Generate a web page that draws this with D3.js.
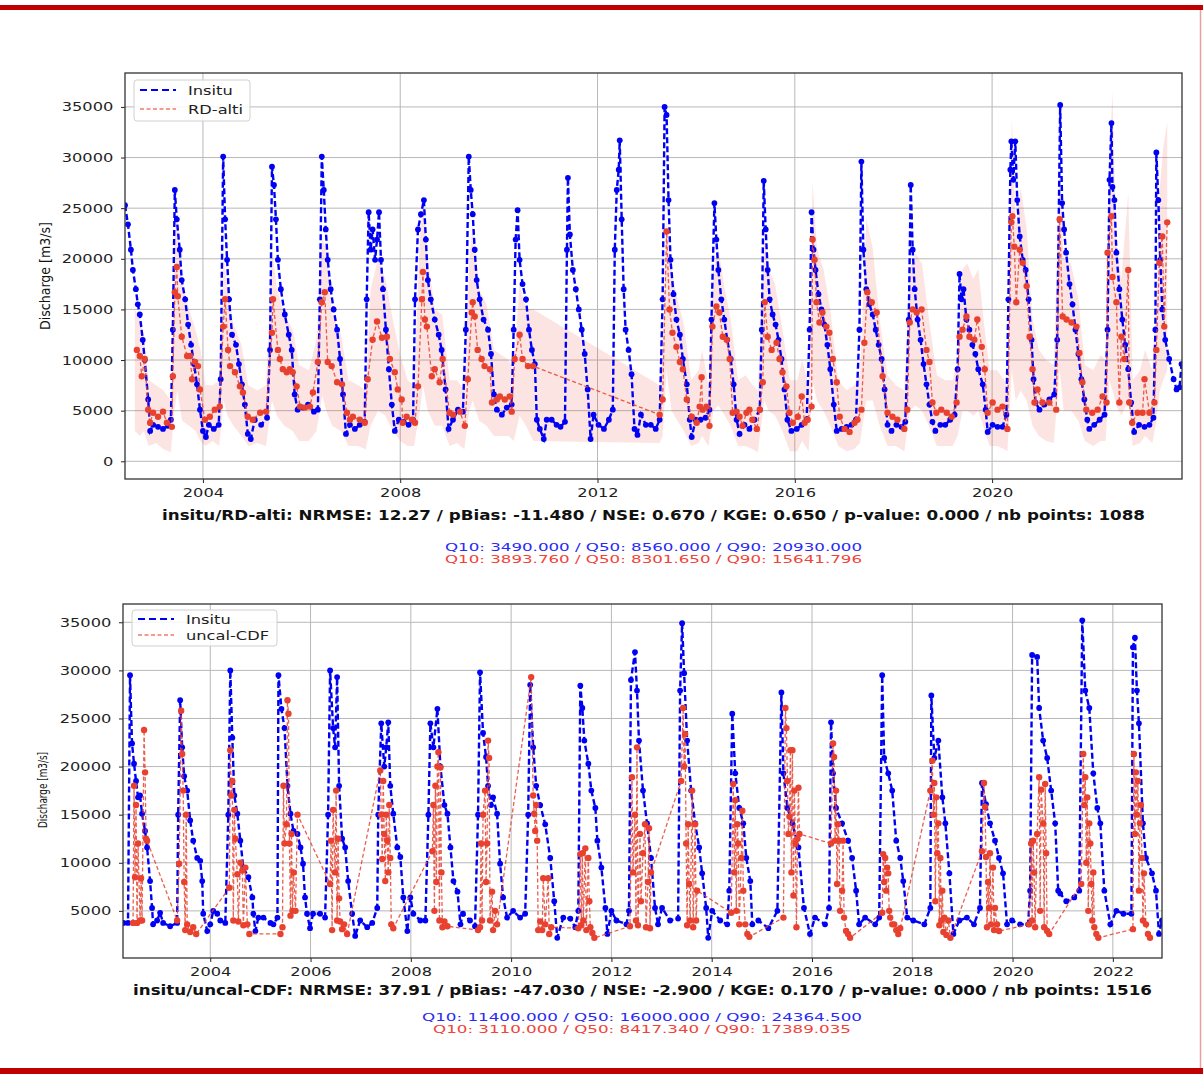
<!DOCTYPE html>
<html>
<head>
<meta charset="utf-8">
<script src="https://cdn.jsdelivr.net/npm/d3@7"></script>
<style>
  body { margin: 0; background: #fff; }
  svg { display: block; }
</style>
</head>
<body>
<svg width="1203" height="1074"></svg>
<script>
// ---- data (decimal year, discharge m3/s) ----
const insituTop = [
  [2002.42,25300],[2002.48,23400],[2002.54,20900],[2002.58,18900],[2002.64,17000],[2002.68,15500],[2002.72,14500],[2002.78,12000],[2002.82,10000],[2002.89,6100],[2002.93,3000],[2002.99,3600],
  [2003.09,3400],[2003.19,3200],[2003.29,3500],[2003.35,4100],[2003.39,13000],[2003.43,26800],[2003.47,23900],[2003.53,20900],[2003.57,17900],[2003.64,16000],[2003.70,13500],[2003.76,11500],[2003.82,9600],[2003.88,7600],[2003.94,5100],
  [2004.00,3000],[2004.06,2400],[2004.12,3600],[2004.22,3200],[2004.32,3600],[2004.36,8100],[2004.41,30100],[2004.45,23900],[2004.49,19900],[2004.53,16000],[2004.59,12500],[2004.67,11500],[2004.73,9600],[2004.79,7600],[2004.85,5600],[2004.91,2700],[2004.97,2200],
  [2005.05,4100],[2005.18,3600],[2005.30,4300],[2005.36,11000],[2005.40,29100],[2005.44,27300],[2005.48,23900],[2005.52,19900],[2005.58,17000],[2005.66,14500],[2005.74,12500],[2005.80,11000],[2005.86,6600],[2005.92,5100],
  [2006.03,5300],[2006.13,5600],[2006.25,4900],[2006.33,5100],[2006.37,16000],[2006.41,30100],[2006.45,26800],[2006.49,22900],[2006.53,19900],[2006.59,17000],[2006.65,15000],[2006.72,13000],[2006.78,10100],[2006.84,6600],[2006.90,2700],[2006.98,3600],
  [2007.08,3200],[2007.18,3600],[2007.28,3900],[2007.32,16000],[2007.36,24600],[2007.40,20900],[2007.44,22900],[2007.49,19900],[2007.53,21900],[2007.57,24600],[2007.61,19900],[2007.65,17000],[2007.71,13000],[2007.77,9100],[2007.83,5600],[2007.89,3000],[2007.97,4100],
  [2008.07,3900],[2008.17,3600],[2008.26,4100],[2008.30,16000],[2008.36,22900],[2008.42,24400],[2008.48,25800],[2008.52,21900],[2008.56,17900],[2008.62,16000],[2008.70,14000],[2008.78,12500],[2008.84,11000],[2008.92,7100],[2008.98,3200],
  [2009.07,4100],[2009.17,5100],[2009.27,4900],[2009.33,13000],[2009.39,30100],[2009.43,26800],[2009.47,24400],[2009.51,20900],[2009.55,17900],[2009.61,16000],[2009.69,14000],[2009.78,13000],[2009.84,10600],[2009.90,6600],[2009.96,5100],
  [2010.06,4600],[2010.16,5300],[2010.26,5600],[2010.30,13000],[2010.34,21900],[2010.38,24800],[2010.42,19900],[2010.48,17500],[2010.55,16000],[2010.61,13000],[2010.67,11000],[2010.73,9600],[2010.77,4100],[2010.83,3200],[2010.91,2200],[2010.97,4100],
  [2011.07,4100],[2011.17,3600],[2011.25,3400],[2011.34,3900],[2011.38,20900],[2011.40,28000],[2011.44,22400],[2011.50,18900],[2011.56,17000],[2011.62,15000],[2011.68,13000],[2011.74,10600],[2011.80,7100],[2011.86,2200],[2011.92,4600],
  [2012.02,3600],[2012.13,3200],[2012.23,4100],[2012.31,5100],[2012.35,20900],[2012.39,26800],[2012.43,28800],[2012.45,31700],[2012.49,23900],[2012.53,17000],[2012.57,13000],[2012.63,11000],[2012.69,8600],[2012.75,3200],[2012.81,2600],[2012.88,4600],[2012.98,3600],
  [2013.08,3600],[2013.18,3200],[2013.26,4100],[2013.32,16000],[2013.36,35000],[2013.40,34200],[2013.44,25800],[2013.48,19900],[2013.54,16500],[2013.60,14000],[2013.67,12500],[2013.73,10100],[2013.81,7600],[2013.87,4100],[2013.91,2400],[2013.99,4100],
  [2014.09,4100],[2014.19,4300],[2014.27,5100],[2014.31,14000],[2014.37,25500],[2014.41,21900],[2014.45,18900],[2014.51,16000],[2014.57,14000],[2014.63,12000],[2014.70,10100],[2014.76,7600],[2014.82,4100],[2014.88,2700],[2014.98,3600],
  [2015.08,3200],[2015.18,4100],[2015.29,5100],[2015.33,13000],[2015.37,27700],[2015.41,22900],[2015.45,18900],[2015.49,16000],[2015.55,14500],[2015.61,13500],[2015.67,12000],[2015.73,10100],[2015.79,7100],[2015.85,4100],[2015.93,3000],
  [2016.04,3200],[2016.14,3600],[2016.24,4100],[2016.30,13000],[2016.34,24600],[2016.38,20900],[2016.42,18900],[2016.48,16500],[2016.54,15000],[2016.60,13500],[2016.66,11500],[2016.72,9100],[2016.79,5600],[2016.85,3000],[2016.95,3200],
  [2017.05,3400],[2017.15,3600],[2017.24,4100],[2017.31,13000],[2017.35,29600],[2017.39,20900],[2017.45,17000],[2017.51,15500],[2017.58,14500],[2017.64,13000],[2017.70,11500],[2017.76,10100],[2017.82,7100],[2017.88,3600],[2017.96,3000],
  [2018.06,3600],[2018.16,3400],[2018.24,3900],[2018.31,14000],[2018.35,27300],[2018.39,20900],[2018.43,17000],[2018.49,14000],[2018.55,12000],[2018.61,9600],[2018.67,7600],[2018.73,5600],[2018.79,3900],[2018.85,3000],[2018.95,3600],
  [2019.05,3600],[2019.15,4100],[2019.24,4600],[2019.30,9100],[2019.34,18500],[2019.38,16000],[2019.42,17000],[2019.48,14000],[2019.54,13000],[2019.60,11500],[2019.66,10600],[2019.72,9100],[2019.81,7600],[2019.87,5100],[2019.91,2900],
  [2020.01,3600],[2020.11,3400],[2020.21,3400],[2020.29,4600],[2020.33,16000],[2020.37,28800],[2020.39,31600],[2020.43,27800],[2020.47,31600],[2020.51,25800],[2020.56,22200],[2020.62,19900],[2020.68,18900],[2020.74,16000],[2020.80,12000],[2020.84,8100],[2020.88,5800],[2020.96,5100],
  [2021.06,5600],[2021.16,6100],[2021.26,6600],[2021.32,12000],[2021.38,35200],[2021.42,25500],[2021.46,22900],[2021.50,20600],[2021.57,17500],[2021.63,15500],[2021.69,13000],[2021.75,10600],[2021.81,8100],[2021.87,6100],[2021.93,4100],[2021.97,3200],
  [2022.07,3600],[2022.18,4100],[2022.28,4600],[2022.34,13000],[2022.38,27800],[2022.42,33400],[2022.44,27100],[2022.48,25800],[2022.52,20600],[2022.58,17000],[2022.64,14000],[2022.70,11500],[2022.76,9100],[2022.82,5800],[2022.88,2900],[2022.98,3600],
  [2023.09,3400],[2023.19,3600],[2023.27,4300],[2023.31,13000],[2023.33,30500],[2023.37,25800],[2023.41,19900],[2023.45,15000],[2023.51,12000],[2023.59,10100],[2023.68,8100],[2023.74,7100],[2023.80,7300],[2023.84,9600]
];

const rdAlti = [
  [2002.66,11000],[2002.72,10400],[2002.76,8400],[2002.82,10100],[2002.89,5100],[2002.93,3800],[2002.99,4800],
  [2003.09,4400],[2003.19,4900],[2003.27,3800],[2003.37,3400],[2003.39,8400],[2003.43,16700],[2003.47,19200],[2003.49,16300],[2003.57,12300],[2003.68,10400],[2003.74,10400],[2003.78,8100],[2003.84,9800],[2003.90,9400],[2003.94,7100],
  [2004.04,4100],[2004.14,4400],[2004.24,5100],[2004.34,5400],[2004.41,13300],[2004.45,16000],[2004.51,11000],[2004.55,9400],[2004.65,8800],[2004.75,7400],[2004.81,6800],[2004.91,4400],
  [2005.01,4100],[2005.16,4800],[2005.28,4900],[2005.40,12700],[2005.42,16000],[2005.52,11000],[2005.56,10100],[2005.62,9100],[2005.70,8800],[2005.76,9100],[2005.82,8800],[2005.90,7400],[2005.97,5400],
  [2006.07,5300],[2006.17,5400],[2006.23,6800],[2006.33,9800],[2006.41,15700],[2006.47,16700],[2006.53,9800],[2006.61,9400],[2006.72,7800],[2006.82,7600],[2006.92,4800],[2006.98,4100],
  [2007.04,4400],[2007.18,4100],[2007.28,3800],[2007.34,8100],[2007.44,12000],[2007.53,13800],[2007.63,12200],[2007.73,12300],[2007.79,10100],[2007.89,8800],[2007.95,7100],
  [2008.03,6100],[2008.05,3800],[2008.13,4400],[2008.24,4100],[2008.30,3800],[2008.36,7400],[2008.44,16000],[2008.46,18700],[2008.50,14000],[2008.54,13300],[2008.64,8400],[2008.70,9100],[2008.80,7800],[2008.86,10100],
  [2009.00,4800],[2009.07,4600],[2009.21,4900],[2009.31,3500],[2009.37,8100],[2009.45,14700],[2009.47,15700],[2009.51,14300],[2009.57,11000],[2009.65,10100],[2009.71,9400],[2009.82,9100],[2009.86,5800],[2009.96,6100],
  [2010.02,6400],[2010.12,6100],[2010.22,6400],[2010.26,4900],[2010.32,10100],[2010.42,12500],[2010.48,10100],[2010.59,9400],[2010.69,9400],
  [2013.26,4600],[2013.32,6100],[2013.40,22700],[2013.46,15000],[2013.52,12700],[2013.60,11300],[2013.67,9800],[2013.73,9100],[2013.81,6100],[2013.91,4400],
  [2014.01,3800],[2014.07,5400],[2014.11,8300],[2014.13,5100],[2014.21,5400],[2014.27,3500],[2014.33,13300],[2014.41,15300],[2014.47,14700],[2014.54,12300],[2014.62,12000],[2014.68,10100],[2014.74,4800],[2014.82,4900],[2014.88,4400],[2014.94,3500],
  [2015.02,4800],[2015.08,5100],[2015.14,4100],[2015.23,3200],[2015.29,5100],[2015.35,7800],[2015.39,15700],[2015.45,12300],[2015.53,11000],[2015.63,11700],[2015.69,10100],[2015.75,8800],[2015.83,7400],[2015.89,4800],[2015.96,3800],
  [2016.06,4400],[2016.14,6400],[2016.20,3800],[2016.26,4100],[2016.34,5400],[2016.36,21900],[2016.40,19900],[2016.44,15700],[2016.50,13700],[2016.56,14700],[2016.64,13300],[2016.70,12700],[2016.77,10100],[2016.85,7800],[2016.91,4400],
  [2017.01,3200],[2017.11,2900],[2017.21,3800],[2017.27,4100],[2017.35,5100],[2017.41,11700],[2017.47,16700],[2017.56,15700],[2017.66,14700],[2017.78,8400],[2017.88,4800],[2017.98,4400],
  [2018.08,4100],[2018.22,3200],[2018.28,5100],[2018.33,13700],[2018.39,15000],[2018.47,14700],[2018.57,15000],[2018.67,11000],[2018.73,9800],[2018.79,5800],[2018.87,4800],[2018.97,5100],
  [2019.08,4800],[2019.18,4400],[2019.28,5800],[2019.34,12300],[2019.40,13000],[2019.48,14300],[2019.54,12300],[2019.64,12000],[2019.70,14000],[2019.79,11300],[2019.85,9100],[2019.91,4800],
  [2020.01,5800],[2020.11,5100],[2020.21,5400],[2020.31,3200],[2020.39,23600],[2020.41,24200],[2020.45,21200],[2020.49,15700],[2020.56,20900],[2020.62,19600],[2020.70,17300],[2020.76,12300],[2020.82,9100],[2020.86,5800],[2020.92,7100],
  [2021.02,5800],[2021.16,5800],[2021.30,5100],[2021.37,23900],[2021.43,14300],[2021.51,14000],[2021.61,13700],[2021.71,13300],[2021.77,10700],[2021.83,7800],[2021.91,5100],
  [2022.03,4800],[2022.14,5100],[2022.24,6400],[2022.32,5800],[2022.34,20600],[2022.42,24200],[2022.44,18200],[2022.52,15700],[2022.58,5800],[2022.62,12300],[2022.68,10100],[2022.76,18900],[2022.78,5800],[2022.84,3800],[2022.95,4800],
  [2023.05,4800],[2023.09,8100],[2023.19,4800],[2023.29,5800],[2023.33,11000],[2023.39,19600],[2023.45,22200],[2023.49,13300],[2023.55,23600]
];

// uncertainty envelope of RD-alti: [year, low, high]
const rdBand = [
  [2002.62,3000,15000],[2002.72,2500,14000],[2002.80,3000,12500],[2002.90,1500,8000],
  [2003.05,1800,7500],[2003.20,1200,7000],[2003.35,900,6000],[2003.42,5000,22000],[2003.48,7000,24500],[2003.58,4000,17500],[2003.72,3500,15000],[2003.85,3000,13000],[2003.95,2000,11000],
  [2004.05,1500,7500],[2004.20,2000,7500],[2004.33,1500,8000],[2004.42,6000,20000],[2004.50,4500,17000],[2004.62,3500,13500],[2004.78,2500,11500],[2004.92,1500,7500],
  [2005.10,1800,7000],[2005.28,1500,7500],[2005.40,6000,21000],[2005.50,4500,17000],[2005.65,3500,14500],[2005.82,3000,13000],[2005.95,2000,9500],
  [2006.15,2000,9000],[2006.30,3000,12000],[2006.42,6500,22000],[2006.50,5000,21000],[2006.62,3500,14500],[2006.80,3000,12500],[2006.95,1500,8000],
  [2007.15,1500,7500],[2007.30,1200,7000],[2007.40,3500,17000],[2007.55,5000,20000],[2007.70,4500,18000],[2007.85,3000,14000],
  [2008.00,2000,10500],[2008.15,1500,8000],[2008.28,1500,7500],[2008.40,5000,22000],[2008.46,7500,26000],[2008.56,5000,20000],[2008.70,3500,15000],[2008.85,3500,14500],
  [2009.00,1500,8000],[2009.15,1800,8000],[2009.30,1200,7000],[2009.40,5000,20000],[2009.47,6000,23500],[2009.60,4000,17000],[2009.75,3500,15500],[2009.90,2500,11000],
  [2010.05,2500,10500],[2010.20,2500,10000],[2010.30,2000,9000],[2010.42,4500,17500],[2010.55,3500,15000],[2010.70,2000,15000],
  [2013.26,1800,7500],[2013.32,2500,10000],[2013.40,9000,24000],[2013.50,5000,19000],[2013.62,4000,16000],[2013.75,3000,13500],[2013.90,1500,8000],
  [2014.05,1800,9000],[2014.12,2500,11000],[2014.25,1500,7500],[2014.35,5000,19000],[2014.45,5500,21000],[2014.58,4500,17000],[2014.70,3500,14000],[2014.85,1500,8000],
  [2015.00,1500,8500],[2015.15,1200,7500],[2015.25,900,7000],[2015.38,6000,22000],[2015.47,5000,19000],[2015.60,4500,17500],[2015.75,3000,13000],[2015.90,1000,8000],
  [2016.05,1000,8000],[2016.15,2000,10000],[2016.28,1000,7500],[2016.36,8000,27500],[2016.45,6000,21000],[2016.58,5000,19000],[2016.72,3500,15000],[2016.88,1500,8000],
  [2017.05,1000,7000],[2017.20,1200,7500],[2017.32,1800,8500],[2017.45,6000,24000],[2017.58,6000,21000],[2017.72,3500,14000],[2017.88,1500,8500],
  [2018.05,1500,7500],[2018.22,1000,7000],[2018.33,5000,19000],[2018.45,5500,20500],[2018.58,5000,19500],[2018.72,3500,14000],[2018.88,1500,8500],
  [2019.05,1500,8000],[2019.20,1500,8000],[2019.30,2500,10000],[2019.40,5000,19000],[2019.50,5000,19500],[2019.62,4500,18000],[2019.72,5000,19000],[2019.85,3000,13000],[2019.95,1500,9000],
  [2020.10,1500,9000],[2020.25,1200,8000],[2020.31,1000,7000],[2020.40,9000,34000],[2020.48,6000,23000],[2020.58,7000,27000],[2020.70,6000,23000],[2020.82,3500,14000],[2020.95,2500,11000],
  [2021.10,2000,10000],[2021.25,1800,9500],[2021.37,9000,29000],[2021.45,5000,20000],[2021.60,5000,19500],[2021.75,4000,16000],[2021.88,2000,9500],
  [2022.05,1500,9000],[2022.20,2000,10500],[2022.30,2000,10000],[2022.38,8000,30000],[2022.44,7000,36500],[2022.52,5500,21500],[2022.62,4500,18000],[2022.76,6000,26500],[2022.85,1500,8000],
  [2023.00,1800,9000],[2023.10,2500,11000],[2023.25,1800,9000],[2023.33,4000,16000],[2023.40,7000,27000],[2023.47,8000,31000],[2023.55,9000,33500]
];

const insituBottom = [
  [2002.27,3750],[2002.36,3750],[2002.40,29500],[2002.44,22400],[2002.48,20300],[2002.52,18500],[2002.56,16800],[2002.60,17000],[2002.64,15100],[2002.70,13300],[2002.74,11600],[2002.80,8100],[2002.84,5300],[2002.86,3600],[2002.94,4000],
  [2003.00,4800],[2003.06,3750],[2003.20,3400],[2003.34,3750],[2003.36,15000],[2003.40,26900],[2003.44,22000],[2003.48,19000],[2003.54,17500],[2003.60,14400],[2003.66,12300],[2003.74,10500],[2003.80,10200],[2003.84,8100],[2003.86,4700],[2003.94,2900],
  [2004.00,3600],[2004.06,5000],[2004.14,4700],[2004.20,4000],[2004.30,3750],[2004.36,15000],[2004.40,30000],[2004.44,23000],[2004.48,17000],[2004.54,15100],[2004.60,12300],[2004.66,9500],[2004.76,8500],[2004.84,6400],[2004.86,4700],[2004.90,2900],[2004.96,4300],
  [2005.06,4300],[2005.20,3750],[2005.26,3600],[2005.34,4300],[2005.36,29500],[2005.42,26000],[2005.48,24000],[2005.54,18000],[2005.60,15100],[2005.66,13300],[2005.74,13000],[2005.80,11600],[2005.85,9900],[2005.89,6400],[2005.93,4700],[2005.99,3200],
  [2006.05,4700],[2006.19,4700],[2006.29,4300],[2006.35,15000],[2006.39,30000],[2006.45,24000],[2006.49,22000],[2006.53,29300],[2006.57,18000],[2006.63,12500],[2006.69,11600],[2006.75,8100],[2006.83,4700],[2006.89,2400],[2006.99,4000],
  [2007.13,3300],[2007.23,3750],[2007.33,5300],[2007.35,15000],[2007.41,24500],[2007.47,20000],[2007.51,22000],[2007.55,24600],[2007.59,18000],[2007.65,15100],[2007.73,11600],[2007.79,10600],[2007.85,6400],[2007.93,2900],[2007.99,6400],
  [2008.05,4700],[2008.19,4000],[2008.29,4000],[2008.35,15000],[2008.39,24500],[2008.45,22000],[2008.53,26000],[2008.59,20000],[2008.67,16000],[2008.73,15100],[2008.79,11600],[2008.85,8100],[2008.93,7000],[2008.99,3600],
  [2009.04,4700],[2009.18,4000],[2009.28,3400],[2009.34,15000],[2009.38,29800],[2009.44,23500],[2009.50,21000],[2009.54,18000],[2009.60,16000],[2009.64,16800],[2009.72,15100],[2009.78,9900],[2009.84,6400],[2009.92,4300],
  [2010.04,5000],[2010.18,4300],[2010.28,4700],[2010.34,15000],[2010.38,28500],[2010.44,22000],[2010.50,18000],[2010.58,16000],[2010.68,14000],[2010.78,10500],[2010.86,6000],[2010.92,2200],
  [2011.04,4300],[2011.18,4200],[2011.28,3300],[2011.34,5000],[2011.38,28400],[2011.42,26100],[2011.46,22700],[2011.54,20300],[2011.60,17500],[2011.68,15700],[2011.72,12300],[2011.80,9500],[2011.88,5300],[2011.92,2600],
  [2012.00,5000],[2012.10,4000],[2012.30,3600],[2012.35,5000],[2012.39,29000],[2012.47,31900],[2012.51,27900],[2012.55,22700],[2012.63,17500],[2012.71,14100],[2012.79,10500],[2012.87,5300],[2012.93,3600],
  [2013.01,5300],[2013.17,4000],[2013.33,4200],[2013.37,27900],[2013.41,34900],[2013.45,29700],[2013.51,22700],[2013.59,17500],[2013.67,14100],[2013.75,11600],[2013.81,8900],[2013.89,5300],[2013.93,2200],
  [2014.01,5000],[2014.17,4000],[2014.31,3600],[2014.35,7100],[2014.41,25500],[2014.47,19300],[2014.55,15700],[2014.63,14100],[2014.69,10500],[2014.77,8100],[2014.81,3600],[2014.93,4000],
  [2015.13,3200],[2015.31,5000],[2015.39,27700],[2015.43,19300],[2015.51,15700],[2015.61,14100],[2015.73,11600],[2015.84,5300],[2015.96,2600],
  [2016.06,4300],[2016.26,3600],[2016.34,5300],[2016.38,24600],[2016.42,19300],[2016.48,15700],[2016.60,14100],[2016.72,12300],[2016.80,10500],[2016.88,7100],[2016.94,3600],
  [2017.06,4300],[2017.26,3600],[2017.34,4300],[2017.40,29500],[2017.44,20900],[2017.52,19300],[2017.60,17500],[2017.68,12300],[2017.76,10500],[2017.82,8100],[2017.90,4300],
  [2018.02,4000],[2018.24,3600],[2018.36,5300],[2018.38,27400],[2018.44,20900],[2018.52,22700],[2018.60,16800],[2018.66,14100],[2018.74,8900],[2018.82,2600],[2018.94,4000],
  [2019.09,4300],[2019.23,3600],[2019.35,5300],[2019.39,18300],[2019.47,16100],[2019.55,14100],[2019.65,12300],[2019.73,10500],[2019.81,8900],[2019.89,3600],[2019.99,4000],
  [2020.15,3600],[2020.31,3600],[2020.35,7100],[2020.39,31600],[2020.49,31400],[2020.53,26100],[2020.61,22700],[2020.69,20900],[2020.77,17500],[2020.85,14100],[2020.91,7100],[2020.95,6800],
  [2021.07,6000],[2021.23,6400],[2021.33,7100],[2021.39,35200],[2021.45,27900],[2021.53,26100],[2021.61,19300],[2021.69,15700],[2021.75,14100],[2021.83,7100],[2021.95,3600],
  [2022.07,5000],[2022.21,4700],[2022.37,4700],[2022.40,32400],[2022.44,33400],[2022.48,27900],[2022.52,24500],[2022.60,14100],[2022.66,10500],[2022.78,8900],[2022.86,7100],[2022.92,2600],[2022.98,4000]
];

const uncalCdf = [
  [2002.46,3750],[2002.48,18000],[2002.50,8500],[2002.52,16000],[2002.54,3750],[2002.56,12000],[2002.60,4000],[2002.62,8400],[2002.64,4000],[2002.68,23800],[2002.70,19400],[2002.72,12500],[2002.74,12300],
  [2003.34,4000],[2003.38,9900],[2003.42,25800],[2003.44,21300],[2003.46,17500],[2003.48,8000],[2003.50,3000],[2003.52,15000],[2003.54,3600],[2003.60,2800],[2003.66,3300],[2003.72,2600],
  [2004.38,7400],[2004.40,21700],[2004.42,17000],[2004.44,18500],[2004.46,4000],[2004.48,15500],[2004.50,12500],[2004.54,8800],[2004.56,3900],[2004.60,10000],[2004.64,9200],[2004.66,3500],[2004.70,9500],[2004.74,3600],[2004.78,2600],
  [2005.40,2600],[2005.44,3300],[2005.46,18000],[2005.48,12000],[2005.52,14000],[2005.54,26900],[2005.56,25500],[2005.58,12000],[2005.60,4500],[2005.62,13000],[2005.64,5000],[2005.66,9000],[2005.70,5000],[2005.74,15000],
  [2006.39,7800],[2006.41,12300],[2006.43,3000],[2006.45,15500],[2006.49,9000],[2006.51,17500],[2006.53,4000],[2006.55,12500],[2006.57,6300],[2006.59,3900],[2006.63,3100],[2006.67,3600],[2006.73,2600],
  [2007.39,19600],[2007.41,15000],[2007.43,10400],[2007.45,18500],[2007.47,13000],[2007.49,8100],[2007.51,15000],[2007.53,12300],[2007.55,9000],[2007.57,16000],[2007.59,10500],[2007.61,3600],[2007.65,3200],
  [2008.43,11200],[2008.45,16000],[2008.47,5000],[2008.49,18000],[2008.51,8000],[2008.53,20000],[2008.55,21500],[2008.57,4000],[2008.59,19900],[2008.61,9000],[2008.63,3300],[2008.67,3900],[2008.73,3400],
  [2009.34,3000],[2009.38,3300],[2009.40,12000],[2009.42,4000],[2009.44,15000],[2009.48,17500],[2009.50,8000],[2009.52,12000],[2009.54,22700],[2009.56,20900],[2009.58,4000],[2009.62,7000],[2009.64,3000],[2009.68,5000],[2009.72,3600],
  [2010.40,29300],[2010.44,17000],[2010.46,15100],[2010.48,13300],[2010.50,16000],[2010.52,12300],[2010.54,3000],[2010.58,3900],[2010.62,3000],[2010.64,8400],[2010.68,3600],[2010.74,8400],[2010.76,2600],[2010.80,3300],
  [2011.34,3200],[2011.38,10900],[2011.40,3500],[2011.42,11000],[2011.44,4000],[2011.48,11500],[2011.50,3000],[2011.54,10500],[2011.56,6000],[2011.58,3300],[2011.62,2700],[2011.66,2200],
  [2012.37,3400],[2012.41,18900],[2012.43,9000],[2012.47,15000],[2012.49,4000],[2012.51,22000],[2012.53,3500],[2012.57,13000],[2012.59,6000],[2012.63,11000],[2012.67,14000],[2012.69,3300],[2012.73,8000],[2012.75,13600],[2012.77,3200],[2012.79,9000],
  [2013.39,18500],[2013.43,26100],[2013.45,20000],[2013.47,23400],[2013.49,12000],[2013.51,3500],[2013.53,14000],[2013.55,7800],[2013.57,4000],[2013.61,17500],[2013.63,3300],[2013.67,14000],[2013.69,4000],[2013.71,7100],
  [2014.39,4800],[2014.43,18200],[2014.45,9000],[2014.47,16500],[2014.49,5000],[2014.51,14000],[2014.53,12000],[2014.55,3600],[2014.59,10500],[2014.61,15400],[2014.63,7100],[2014.67,3600],[2014.71,2600],[2014.75,2300],
  [2015.43,4300],[2015.47,26100],[2015.49,24000],[2015.51,18500],[2015.53,13000],[2015.55,14800],[2015.57,21700],[2015.59,9000],[2015.61,21700],[2015.63,6600],[2015.65,17500],[2015.67,12000],[2015.69,3300],[2015.71,12500],[2015.73,17800],[2015.75,13000],
  [2016.38,12000],[2016.42,22400],[2016.44,21000],[2016.46,12300],[2016.48,17500],[2016.50,7800],[2016.52,14000],[2016.54,12300],[2016.56,5000],[2016.60,7100],[2016.62,12300],[2016.64,4300],[2016.68,2900],[2016.72,2600],[2016.76,2200],
  [2017.40,4800],[2017.42,10900],[2017.44,8000],[2017.46,10500],[2017.48,7100],[2017.50,9500],[2017.52,8900],[2017.54,5000],[2017.56,4300],[2017.60,3600],[2017.64,3600],[2017.68,3000],[2017.72,2600],[2017.76,3200],
  [2018.36,17500],[2018.40,20600],[2018.42,15000],[2018.44,18300],[2018.46,6000],[2018.48,16800],[2018.50,11000],[2018.52,14100],[2018.54,3500],[2018.56,10500],[2018.58,4000],[2018.60,7100],[2018.62,2800],[2018.64,4300],[2018.68,2500],[2018.72,4000],[2018.76,2200],
  [2019.39,11200],[2019.43,18300],[2019.45,15800],[2019.47,10600],[2019.49,3300],[2019.51,8000],[2019.53,5300],[2019.55,11000],[2019.57,3600],[2019.61,9500],[2019.63,3000],[2019.65,5300],[2019.69,3600],[2019.73,2900],
  [2020.33,3600],[2020.37,12000],[2020.39,4000],[2020.41,12300],[2020.43,9000],[2020.45,3300],[2020.49,13000],[2020.53,18900],[2020.55,5000],[2020.57,17600],[2020.61,14100],[2020.63,3300],[2020.65,18200],[2020.67,11000],[2020.69,2900],[2020.73,2600],
  [2021.37,7800],[2021.41,21300],[2021.43,16000],[2021.45,18900],[2021.47,10000],[2021.49,16800],[2021.51,5000],[2021.53,14100],[2021.55,12000],[2021.57,7800],[2021.59,4000],[2021.61,9000],[2021.63,3300],[2021.67,2600],[2021.71,2200],
  [2022.40,3100],[2022.42,21300],[2022.44,13000],[2022.46,19400],[2022.48,15000],[2022.50,18500],[2022.52,7100],[2022.54,14100],[2022.56,16000],[2022.58,10500],[2022.60,4000],[2022.62,8900],[2022.66,3600],[2022.70,2600],[2022.74,2200]
];

const yTicks = [0, 5000, 10000, 15000, 20000, 25000, 30000, 35000];
const xTicksTop = [2004, 2008, 2012, 2016, 2020];
const xTicksBottom = [2004, 2006, 2008, 2010, 2012, 2014, 2016, 2018, 2020, 2022];

const statsTop = "insitu/RD-alti: NRMSE: 12.27 / pBias: -11.480 / NSE: 0.670 / KGE: 0.650 / p-value: 0.000 / nb points: 1088";
const qInsituTop = "Q10: 3490.000 / Q50: 8560.000 / Q90: 20930.000";
const qAltiTop = "Q10: 3893.760 / Q50: 8301.650 / Q90: 15641.796";
const statsBottom = "insitu/uncal-CDF: NRMSE: 37.91 / pBias: -47.030 / NSE: -2.900 / KGE: 0.170 / p-value: 0.000 / nb points: 1516";
const qInsituBottom = "Q10: 11400.000 / Q50: 16000.000 / Q90: 24364.500";
const qCdfBottom = "Q10: 3110.000 / Q50: 8417.340 / Q90: 17389.035";

// ---- drawing ----
const svg = d3.select("svg");
const BLUE = "#0000f5", RED = "#e8412f";
const FONT = "DejaVu Sans";

// slide decoration
svg.append("rect").attr("x", 0).attr("y", 5).attr("width", 1203).attr("height", 5).attr("fill", "#c00000");
svg.append("rect").attr("x", 0).attr("y", 1068).attr("width", 1203).attr("height", 6).attr("fill", "#c00000");
svg.append("line").attr("x1", 1200.5).attr("x2", 1200.5).attr("y1", 10).attr("y2", 1068)
  .attr("stroke", "#eaa0a0").attr("stroke-width", 1.5);

function panel(p) {
  const x = d3.scaleLinear().domain(p.xDomain).range([p.left, p.right]);
  const y = d3.scaleLinear().domain(p.yDomain).range([p.bottom, p.top]);
  const g = svg.append("g");

  const clipId = "clip" + p.id;
  svg.append("clipPath").attr("id", clipId).append("rect")
    .attr("x", p.left).attr("y", p.top).attr("width", p.right - p.left).attr("height", p.bottom - p.top);

  // grid
  const yt = p.yTicks.filter(v => v >= p.yDomain[0]);
  g.append("g").selectAll("line").data(yt).join("line")
    .attr("x1", p.left).attr("x2", p.right).attr("y1", d => y(d)).attr("y2", d => y(d))
    .attr("stroke", "#b8b8b8").attr("stroke-width", 1);
  g.append("g").selectAll("line").data(p.xTicks).join("line")
    .attr("y1", p.top).attr("y2", p.bottom).attr("x1", d => x(d)).attr("x2", d => x(d))
    .attr("stroke", "#b8b8b8").attr("stroke-width", 1);

  const plot = g.append("g").attr("clip-path", `url(#${clipId})`);

  if (p.band) {
    plot.append("path").datum(p.band)
      .attr("d", d3.area().x(d => x(d[0])).y0(d => y(d[1])).y1(d => y(d[2])))
      .attr("fill", RED).attr("fill-opacity", 0.14);
  }

  // insitu
  plot.append("path").datum(p.insitu)
    .attr("d", d3.line().x(d => x(d[0])).y(d => y(d[1])))
    .attr("fill", "none").attr("stroke", BLUE).attr("stroke-width", 2.4).attr("stroke-dasharray", "6,3");
  plot.append("g").selectAll("circle").data(p.insitu).join("circle")
    .attr("cx", d => x(d[0])).attr("cy", d => y(d[1])).attr("r", 2.9).attr("fill", BLUE);

  // product
  plot.append("path").datum(p.product)
    .attr("d", d3.line().x(d => x(d[0])).y(d => y(d[1])))
    .attr("fill", "none").attr("stroke", RED).attr("stroke-width", 1.3).attr("stroke-dasharray", "4,2.5")
    .attr("stroke-opacity", 0.85);
  plot.append("g").selectAll("circle").data(p.product).join("circle")
    .attr("cx", d => x(d[0])).attr("cy", d => y(d[1])).attr("r", 3.2).attr("fill", RED);

  // axes
  const ax = g.append("g").attr("transform", `translate(0,${p.bottom})`)
    .call(d3.axisBottom(x).tickValues(p.xTicks).tickFormat(d3.format("d")).tickSize(4).tickPadding(5));
  const ay = g.append("g").attr("transform", `translate(${p.left},0)`)
    .call(d3.axisLeft(y).tickValues(yt).tickFormat(d => d).tickSize(4).tickPadding(5));
  [ax, ay].forEach(a => {
    a.select(".domain").remove();
    a.selectAll("line").attr("stroke", "#222");
    a.selectAll("text").attr("font-family", FONT).attr("font-size", p.tickFont).attr("fill", "#222")
      .attr("transform", "scale(1.3,1)");
  });

  g.append("rect").attr("x", p.left).attr("y", p.top)
    .attr("width", p.right - p.left).attr("height", p.bottom - p.top)
    .attr("fill", "none").attr("stroke", "#333").attr("stroke-width", 1.3);

  // y label
  g.append("text")
    .attr("transform", `translate(${p.ylabX},${(p.top + p.bottom) / 2 + p.ylabDy}) rotate(-90)`)
    .attr("text-anchor", "middle").attr("font-family", FONT).attr("font-size", p.ylabSize)
    .attr("textLength", p.ylabLen).attr("lengthAdjust", "spacingAndGlyphs")
    .attr("fill", "#111").text("Discharge [m3/s]");

  // legend
  const lg = g.append("g").attr("transform", `translate(${p.leg.x},${p.leg.y})`);
  lg.append("rect").attr("width", p.leg.w).attr("height", p.leg.h).attr("rx", 3)
    .attr("fill", "#fff").attr("fill-opacity", 0.85).attr("stroke", "#d0d0d0");
  const items = [
    { label: "Insitu", color: BLUE, w: 2.2, dash: "7,4", op: 1 },
    { label: p.productLabel, color: RED, w: 1.3, dash: "4,2.5", op: 0.7 }
  ];
  items.forEach((it, i) => {
    const yy = p.leg.row0 + i * p.leg.step;
    lg.append("line").attr("x1", 6).attr("x2", 42).attr("y1", yy).attr("y2", yy)
      .attr("stroke", it.color).attr("stroke-width", it.w).attr("stroke-dasharray", it.dash).attr("stroke-opacity", it.op);
    lg.append("text").attr("transform", `translate(54,${yy + 4.5}) scale(1.3,1)`)
      .attr("font-family", FONT).attr("font-size", 12.5).attr("fill", "#222").text(it.label);
  });

  // statistics text
  g.append("text").attr("x", p.stats.x).attr("y", p.stats.y)
    .attr("font-family", FONT).attr("font-weight", "bold").attr("font-size", 14)
    .attr("textLength", p.stats.len).attr("lengthAdjust", "spacingAndGlyphs")
    .attr("fill", "#111").text(p.stats.text);
  p.quant.forEach(q => {
    g.append("text").attr("x", q.x).attr("y", q.y)
      .attr("font-family", FONT).attr("font-size", 10.2)
      .attr("textLength", q.len).attr("lengthAdjust", "spacingAndGlyphs")
      .attr("fill", q.color).text(q.text);
  });
}

panel({
  id: "top", left: 125, right: 1182, top: 73, bottom: 479,
  xDomain: [2002.42, 2023.85], yDomain: [-1750, 38350],
  xTicks: xTicksTop, yTicks: yTicks, tickFont: 12.5,
  insitu: insituTop, product: rdAlti, band: rdBand, productLabel: "RD-alti",
  ylabX: 50, ylabDy: 0, ylabSize: 14, ylabLen: 108,
  leg: { x: 134, y: 80, w: 116, h: 41, row0: 10, step: 19 },
  stats: { x: 162, y: 520, len: 983, text: statsTop },
  quant: [
    { x: 445, y: 551, len: 417, color: "#2a2af5", text: qInsituTop },
    { x: 445, y: 563, len: 417, color: "#f0433a", text: qAltiTop }
  ]
});

panel({
  id: "bottom", left: 123, right: 1162, top: 604, bottom: 958,
  xDomain: [2002.26, 2022.98], yDomain: [100, 36900],
  xTicks: xTicksBottom, yTicks: yTicks, tickFont: 12.5,
  insitu: insituBottom, product: uncalCdf, band: null, productLabel: "uncal-CDF",
  ylabX: 47, ylabDy: 9, ylabSize: 12, ylabLen: 76,
  leg: { x: 132, y: 610, w: 145, h: 36, row0: 9, step: 16 },
  stats: { x: 133, y: 995, len: 1019, text: statsBottom },
  quant: [
    { x: 422, y: 1021, len: 440, color: "#2a2af5", text: qInsituBottom },
    { x: 433, y: 1033, len: 418, color: "#f0433a", text: qCdfBottom }
  ]
});
</script>
</body>
</html>
